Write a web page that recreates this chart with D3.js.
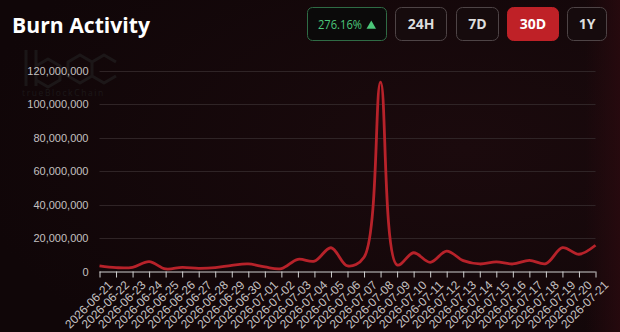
<!DOCTYPE html>
<html>
<head>
<meta charset="utf-8">
<script src="https://cdn.jsdelivr.net/npm/d3@7"></script>
<style>
html,body{margin:0;padding:0;background:#110709;}
svg{display:block;}
</style>
</head>
<body>
<svg id="chart" width="620" height="332"></svg>
<script>
const dates = ["2026-06-21","2026-06-22","2026-06-23","2026-06-24","2026-06-25","2026-06-26","2026-06-27","2026-06-28","2026-06-29","2026-06-30","2026-07-01","2026-07-02","2026-07-03","2026-07-04","2026-07-05","2026-07-06","2026-07-07","2026-07-08","2026-07-09","2026-07-10","2026-07-11","2026-07-12","2026-07-13","2026-07-14","2026-07-15","2026-07-16","2026-07-17","2026-07-18","2026-07-19","2026-07-20","2026-07-21"];
const burned = [3.3e6,2.3e6,2.5e6,5.9e6,1.5e6,2.5e6,1.9e6,2.3e6,3.7e6,4.5e6,2.7e6,1.7e6,7.3e6,6.2e6,14.2e6,3.3e6,8.5e6,113.2e6,3.9e6,11.2e6,5.5e6,12.2e6,6.5e6,4.5e6,5.7e6,4.5e6,6.7e6,4.7e6,14.2e6,10.3e6,15.7e6];
const yTicks = [0,20e6,40e6,60e6,80e6,100e6,120e6];
const buttons = ["24H","7D","30D","1Y"];
const activeButton = "30D";
const changeLabel = "276.16%";

(function(){
const svg = d3.select("#chart");
const W = 620, H = 332;

// background
const defs = svg.append("defs");
const bg = defs.append("radialGradient").attr("id","bg").attr("cx","0.75").attr("cy","0.45").attr("r","0.8");
bg.append("stop").attr("offset","0%").attr("stop-color","#1b0a0d");
bg.append("stop").attr("offset","100%").attr("stop-color","#100608");
svg.append("rect").attr("width",W).attr("height",H).attr("fill","url(#bg)");
const edge = defs.append("linearGradient").attr("id","edge").attr("x1","0").attr("x2","1");
edge.append("stop").attr("offset","0%").attr("stop-color","#2a0a0f").attr("stop-opacity",0);
edge.append("stop").attr("offset","100%").attr("stop-color","#2a0a0f").attr("stop-opacity",0.8);
svg.append("rect").attr("x",585).attr("width",35).attr("height",H).attr("fill","url(#edge)");

// watermark (faint logo)
const wm = svg.append("g").attr("opacity",0.09).attr("fill","none").attr("stroke","#7fb8b0").attr("stroke-width",3).attr("stroke-linejoin","round");
wm.append("path").attr("d","M26 50 L26 86");
wm.append("path").attr("d","M36 50 L36 86 M36 66 l12 -7 l12 7 l0 14 l-12 7 l-12 -7");
wm.append("path").attr("d","M92 62 l-12 -7 l-12 7 l0 14 l12 7 l12 -7 M116 62 l-12 -7 l-12 7 l0 14 l12 7 l12 -7");
svg.append("text").attr("x",22).attr("y",96).attr("fill","#7fb8b0").attr("opacity",0.09)
  .attr("font-family","'Open Sans', sans-serif").attr("font-size",8.5).attr("letter-spacing",1.6).text("trueBlockChain");

// title
svg.append("text").attr("x",12).attr("y",33).attr("fill","#ffffff")
  .attr("font-family","'Open Sans', sans-serif").attr("font-weight",700).attr("font-size",22)
  .attr("textLength",138).attr("lengthAdjust","spacingAndGlyphs").text("Burn Activity");

// change badge
const badge = svg.append("g");
badge.append("rect").attr("x",307.5).attr("y",7.5).attr("width",79).attr("height",33).attr("rx",5)
  .attr("fill","#0b0a0a").attr("stroke","#2f6b45").attr("stroke-width",1);
badge.append("text").attr("x",318).attr("y",28.7).attr("fill","#4cc77a")
  .attr("font-family","'Open Sans', sans-serif").attr("font-size",12)
  .attr("textLength",44).attr("lengthAdjust","spacingAndGlyphs").text(changeLabel);
badge.append("path").attr("d","M366.5 28.7 L371.3 20.5 L376 28.7 Z").attr("fill","#4cc77a");

// buttons
const btnX = d3.scaleOrdinal().domain(buttons).range([395.5,456.5,507.5,567.5]);
const btnW = d3.scaleOrdinal().domain(buttons).range([51,42,51,39]);
const bg2 = svg.append("g").selectAll("g").data(buttons).join("g");
bg2.append("rect").attr("x",d=>btnX(d)).attr("y",7.5).attr("width",d=>btnW(d)).attr("height",33).attr("rx",6)
  .attr("fill",d=>d===activeButton?"#bf2127":"#160b0d")
  .attr("stroke",d=>d===activeButton?"#bf2127":"#4e4446").attr("stroke-width",1);
bg2.append("text").attr("x",d=>btnX(d)+btnW(d)/2).attr("y",29.3).attr("text-anchor","middle")
  .attr("fill",d=>d===activeButton?"#ffffff":"#dddddd")
  .attr("font-family","'Open Sans', sans-serif").attr("font-weight",700).attr("font-size",14).text(d=>d);

// scales
const pLeft = 99.5, pRight = 595.5, pTop = 70.7, pBottom = 271.5;
const x = d3.scalePoint().domain(dates).range([pLeft,pRight]);
const y = d3.scaleLinear().domain([0,120e6]).range([pBottom,pTop]);

// grid
svg.append("g").selectAll("line").data(yTicks.filter(d=>d>0)).join("line")
  .attr("x1",pLeft).attr("x2",pRight).attr("y1",d=>Math.round(y(d))+0.5).attr("y2",d=>Math.round(y(d))+0.5)
  .attr("stroke","#2f2426").attr("stroke-width",1);

// y axis labels
const yAxis = d3.axisLeft(y).tickValues(yTicks).tickSize(0).tickPadding(11).tickFormat(d3.format(","));
const gy = svg.append("g").attr("transform",`translate(${pLeft},0)`).call(yAxis);
gy.select(".domain").remove();
gy.selectAll("text").attr("fill","#c4c0c0").attr("font-family","'Liberation Sans', Arial, sans-serif").attr("font-size",11);

// x axis
const xAxis = d3.axisBottom(x).tickSize(6).tickPadding(3);
const gx = svg.append("g").attr("transform",`translate(0,${pBottom})`).call(xAxis);
gx.select(".domain").attr("stroke","#cfcfcf").attr("d",`M${pLeft},0.5H${pRight}`);
gx.selectAll(".tick line").attr("stroke","#cfcfcf");
gx.selectAll("text").attr("fill","#c4c0c0").attr("font-family","'Liberation Sans', Arial, sans-serif").attr("font-size",12)
  .attr("text-anchor","end").attr("dy","0.35em")
  .attr("transform","translate(4,5) rotate(-45)");

// line
const line = d3.line().x((d,i)=>x(dates[i])).y(d=>y(d)).curve(d3.curveCatmullRom.alpha(0.5));
svg.append("path").datum(burned).attr("d",line).attr("fill","none")
  .attr("stroke","#b7222a").attr("stroke-width",2.8).attr("stroke-linejoin","round");
})();
</script>
</body>
</html>
